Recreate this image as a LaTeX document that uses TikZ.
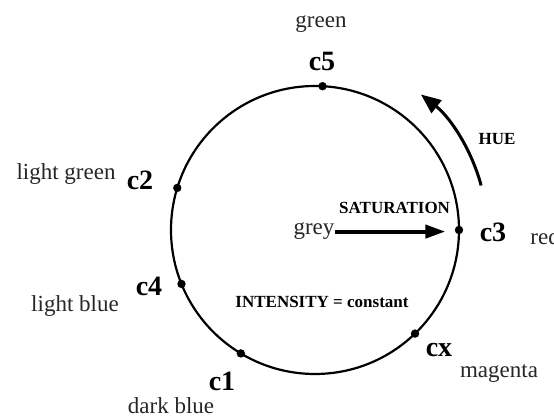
\documentclass[tikz,border=0pt]{standalone}
\usepackage{fontspec}
\setmainfont{Liberation Serif}
\usetikzlibrary{arrows.meta, positioning, calc}

\begin{document}
\begin{tikzpicture}[
    x=0.5pt, y=0.5pt,
    wheel/.style={line width=1.1pt},
    dot/.style={circle, fill=black, inner sep=0pt, minimum size=4.2pt},
    cname/.style={font=\fontsize{14}{14}\selectfont\bfseries, inner sep=0pt},
    colname/.style={font=\fontsize{11.5}{12}\selectfont, text=black!85, inner sep=0pt},
    tag/.style={font=\fontsize{8.5}{9}\selectfont\bfseries, inner sep=0pt},
    satarr/.style={-{Triangle[length=10pt, width=6.5pt]}, line width=2pt},
    huearr/.style={-{Triangle[length=10pt, width=8pt]}, line width=1.5pt},
]
    \useasboundingbox (0,0) rectangle (554,417);
    \coordinate (O) at (315,187);

    % colour circle
    \draw[wheel] (O) circle[radius=144];

    \node[dot] (c5) at ([shift={(87:144)}]O) {};
    \node[dot] (c2) at ([shift={(163:144)}]O) {};
    \node[dot] (c3) at ([shift={(0:144)}]O) {};
    \node[dot] (c4) at ([shift={(202:144)}]O) {};
    \node[dot] (c1) at ([shift={(239:144)}]O) {};
    \node[dot] (cx) at ([shift={(-46:144)}]O) {};

    % labels
    \node[cname, anchor=base] (c5lbl) at (322,346) {c5};
    \node[colname, anchor=base] (green) at (321,389) {green};
    \node[cname, anchor=base] (c2lbl) at (140,227) {c2};
    \node[colname, anchor=base] (lgreen) at (66,237) {light green};
    \node[cname, anchor=base] (c3lbl) at (493,175) {c3};
    \node[colname, anchor=base west] (red) at (530,172) {red};
    \node[cname, anchor=base] (c4lbl) at (149,121) {c4};
    \node[colname, anchor=base] (lblue) at (75,105) {light blue};
    \node[cname, anchor=base] (c1lbl) at (222,26) {c1};
    \node[colname, anchor=base] (dblue) at (171,3) {dark blue};
    \node[cname, anchor=base] (cxlbl) at (439,60) {cx};
    \node[colname, anchor=base] (magenta) at (499,39) {magenta};

    \node[tag, anchor=base] (intens) at (322,109) {INTENSITY = constant};

    % saturation
    \node[colname, anchor=base] (grey) at (314,182) {grey};
    \draw[satarr, shorten >=4.5pt] (grey.east) -- (grey.east -| c3.west)
        node[midway, above=8pt, tag] {SATURATION};

    % hue
    \draw[huearr] ([shift={(15:172)}]O) arc[start angle=15, end angle=52, radius=172];
    \node[tag, anchor=base] (hue) at (497,272) {HUE};
\end{tikzpicture}
\end{document}
